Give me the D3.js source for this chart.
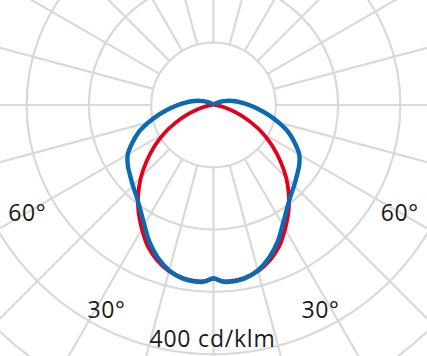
<!DOCTYPE html>
<html>
<head>
<meta charset="utf-8">
<script src="https://cdn.jsdelivr.net/npm/d3@7"></script>
<style>
  html, body { margin: 0; padding: 0; background: #fff; }
  svg { display: block; }
  text { font-family: "Open Sans", "Noto Sans", sans-serif; fill: #1a1a1a; }
</style>
</head>
<body>
<svg id="chart" width="427" height="356"></svg>
<script>
// gamma angles (degrees from nadir) and intensities in cd/klm
const gammas = [0, 3, 6, 10, 15, 20, 25, 30, 35, 40, 45, 50, 55, 60, 65, 70, 75, 80, 85, 90,
                95, 100, 105, 110, 115, 120, 125, 130, 135, 140, 150, 160, 170, 180];
// C0 - C180 plane (red)
const redValues = [279, 283, 284, 282, 276, 265, 250, 230, 210, 188, 165, 140, 116, 92, 67, 45, 26, 13, 6, 2,
                   1, 0, 0, 0, 0, 0, 0, 0, 0, 0, 0, 0, 0, 0];
// C90 - C270 plane (blue)
const blueValues = [278, 284, 285, 283, 275, 261, 243, 222, 205, 192, 183, 175, 168, 159, 144, 128, 108, 89, 72, 57,
                    45, 35, 26, 18, 12, 8, 5, 3, 2, 1, 0, 0, 0, 0];

const ringValues = [100, 200, 300, 400, 500];
const spokeAngles = d3.range(0, 360, 15);
const angleLabels = [60, 30];
const unitLabel = "400 cd/klm";

const svg = d3.select("#chart");
const cx = 213.5, cy = 105;

const r = d3.scaleLinear().domain([0, 100]).range([0, 62.3]);
const g = svg.append("g").attr("transform", `translate(${cx},${cy})`);

// grid
const grid = g.append("g").attr("fill", "none").attr("stroke", "#d9d9d9").attr("stroke-width", 2.2);
grid.selectAll("circle").data(ringValues).join("circle").attr("r", d => r(d));
grid.selectAll("line").data(spokeAngles).join("line")
    .attr("x1", d => r(100) * Math.sin(d * Math.PI / 180))
    .attr("y1", d => r(100) * Math.cos(d * Math.PI / 180))
    .attr("x2", d => r(1000) * Math.sin(d * Math.PI / 180))
    .attr("y2", d => r(1000) * Math.cos(d * Math.PI / 180));

// curves: left half from 180 down to 0, right half from 0 up to 180
function curvePoints(values) {
    const pts = [];
    for (let i = gammas.length - 1; i > 0; i--) pts.push([Math.PI + gammas[i] * Math.PI / 180, values[i]]);
    for (let i = 0; i < gammas.length; i++) pts.push([Math.PI - gammas[i] * Math.PI / 180, values[i]]);
    return pts;
}

const radial = d3.lineRadial()
    .angle(d => d[0])
    .radius(d => r(d[1]))
    .curve(d3.curveCatmullRomClosed);

g.append("path")
    .attr("d", radial(curvePoints(redValues)))
    .attr("fill", "none").attr("stroke", "#e2001a").attr("stroke-width", 3.8);

g.append("path")
    .attr("d", radial(curvePoints(blueValues)))
    .attr("fill", "none").attr("stroke", "#0a6ab2").attr("stroke-width", 4.4);

// labels
const labelPos = { 60: [60, 215], 30: [27.6, 231] };
angleLabels.forEach(a => {
    const [ang, rad] = labelPos[a];
    [-1, 1].forEach(s => {
        g.append("text")
            .attr("x", s * rad * Math.sin(ang * Math.PI / 180))
            .attr("y", rad * Math.cos(ang * Math.PI / 180) + 8.5)
            .attr("text-anchor", "middle")
            .attr("font-size", 23)
            .attr("letter-spacing", 0.6)
            .text(a + "°");
    });
});

g.append("text")
    .attr("x", -1)
    .attr("y", 241.5)
    .attr("text-anchor", "middle")
    .attr("font-size", 23)
    .attr("letter-spacing", 0.8)
    .text(unitLabel);
</script>
</body>
</html>
